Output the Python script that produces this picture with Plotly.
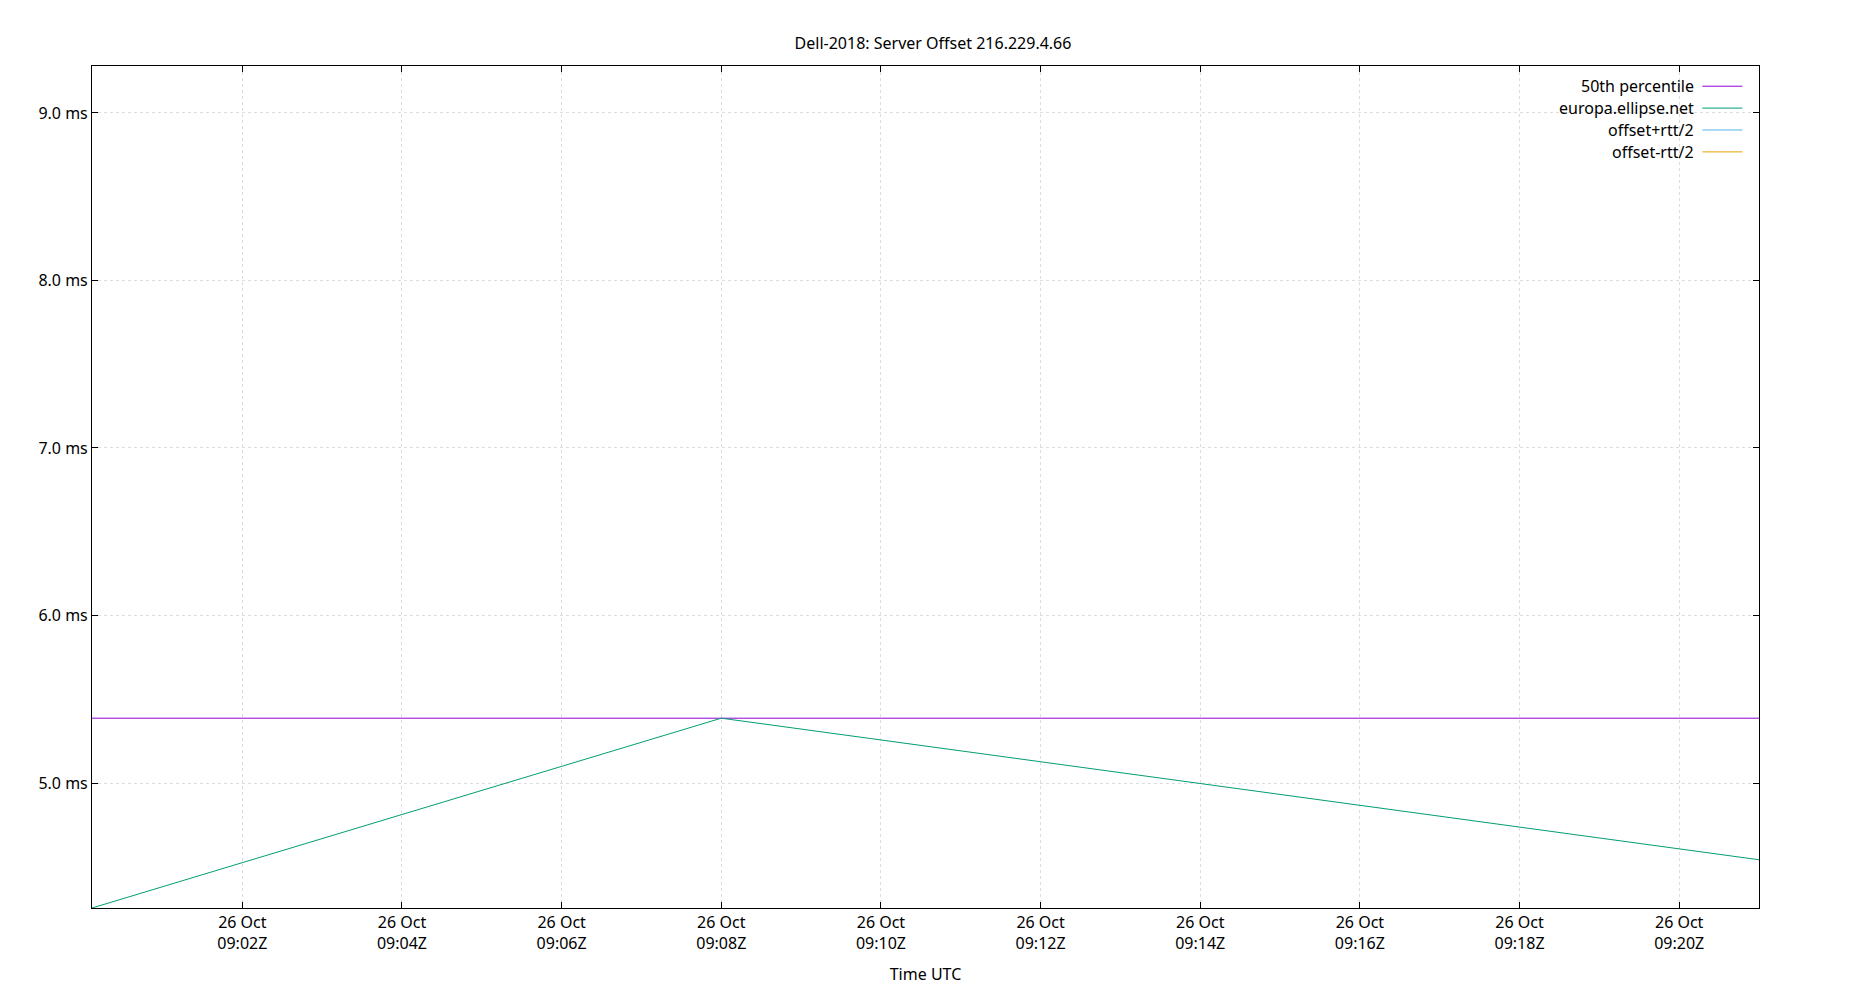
import plotly.graph_objects as go

# offset samples (UTC) and values in ms
times = ["2023-10-26 09:00:07", "2023-10-26 09:08:00", "2023-10-26 09:21:00"]
offset_ms = [4.254, 5.387, 4.542]
median_ms = 5.387
x_range = ["2023-10-26 09:00:07", "2023-10-26 09:21:00"]

tick_vals = [f"2023-10-26 09:{m:02d}:00" for m in range(2, 21, 2)]
tick_text = [f"26 Oct<br>09:{m:02d}Z" for m in range(2, 21, 2)]
y_vals = [5.0, 6.0, 7.0, 8.0, 9.0]
y_text = [f"{v:.1f} ms" for v in y_vals]

names = ["50th percentile", "europa.ellipse.net", "offset+rtt/2", "offset-rtt/2"]
colors = ["#9400d3", "#009e73", "#56b4e9", "#e69f00"]

fig = go.Figure()
fig.add_trace(go.Scatter(x=x_range, y=[median_ms, median_ms], mode="lines",
                         line=dict(color=colors[0], width=1), name=names[0]))
fig.add_trace(go.Scatter(x=times, y=offset_ms, mode="lines",
                         line=dict(color=colors[1], width=1), name=names[1]))

# gnuplot style key: text right aligned, sample line to the right
for i, (n, c) in enumerate(zip(names, colors)):
    yy = 0.976 - i * 0.026
    fig.add_annotation(xref="paper", yref="paper", x=0.962, y=yy, text=n,
                       showarrow=False, xanchor="right", yanchor="middle",
                       font=dict(size=16))
    fig.add_shape(type="line", xref="paper", yref="paper", x0=0.966, x1=0.99,
                  y0=yy, y1=yy, line=dict(color=c, width=1))

axis_common = dict(showline=True, linecolor="black", mirror="ticks", ticks="inside",
                   ticklen=6, tickcolor="black", showgrid=True, gridcolor="#dddddd",
                   griddash="dot", zeroline=False, tickfont=dict(size=16))
fig.update_xaxes(range=x_range, tickvals=tick_vals, ticktext=tick_text,
                 title=dict(text="Time UTC", font=dict(size=16)), **axis_common)
fig.update_yaxes(range=[4.254, 9.28], tickvals=y_vals, ticktext=y_text, **axis_common)
fig.update_layout(
    width=1850, height=1000, plot_bgcolor="white", paper_bgcolor="white",
    showlegend=False, font=dict(family="Noto Sans", color="black"),
    title=dict(text="Dell-2018: Server Offset 216.229.4.66", x=0.5, y=0.97,
               font=dict(size=16)),
    margin=dict(l=84, r=99, t=58, b=100),
)
fig.write_html("out.html")
